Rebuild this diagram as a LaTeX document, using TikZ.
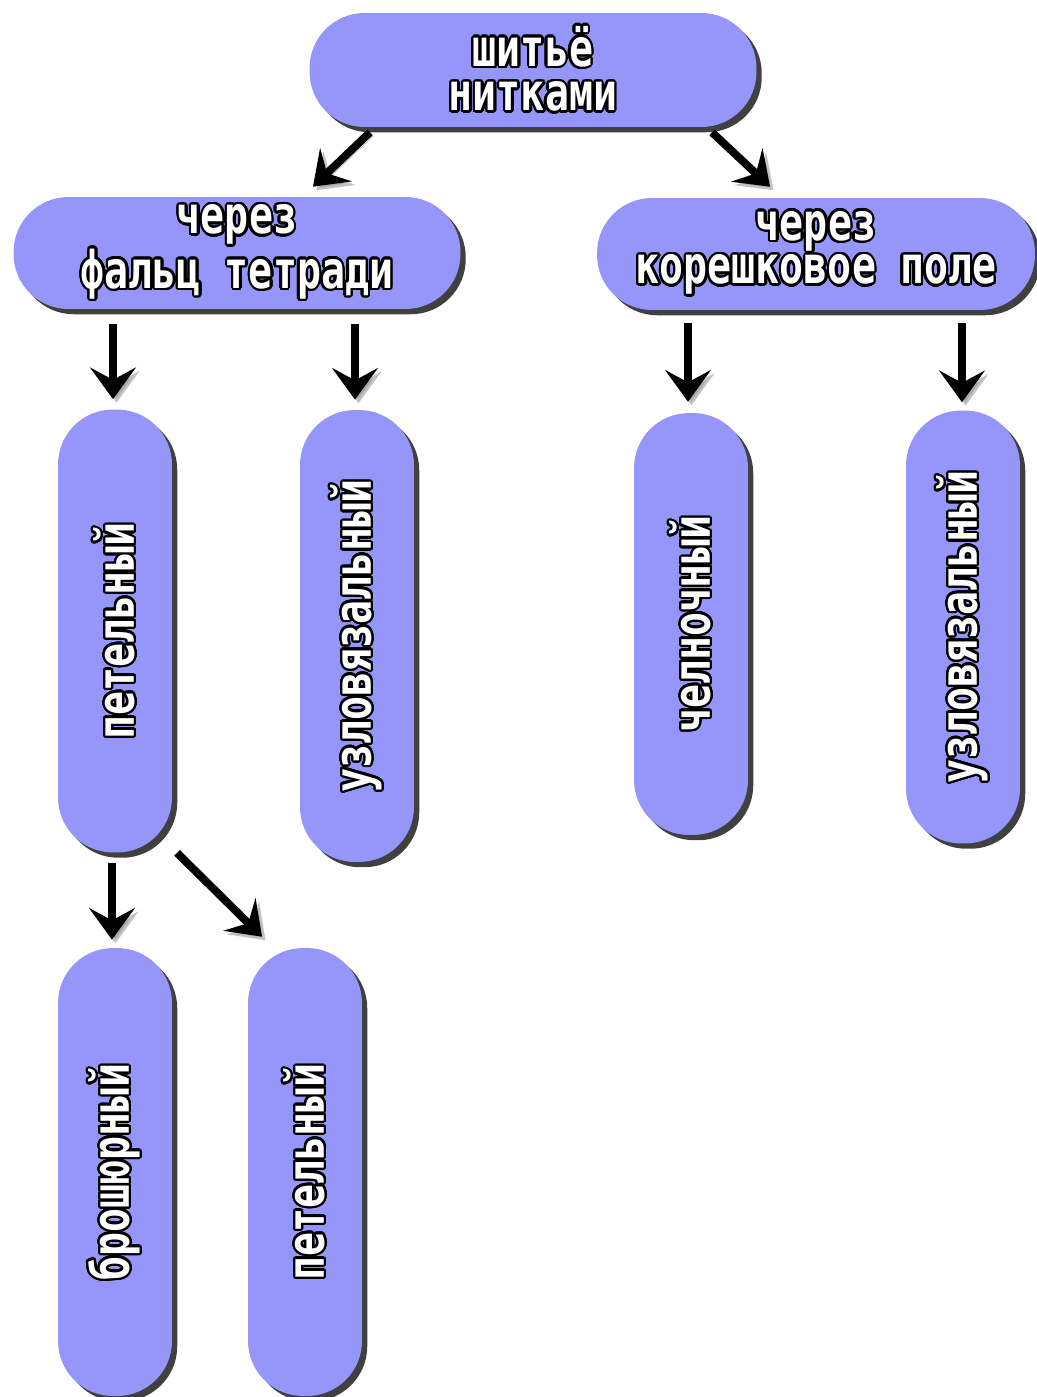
\documentclass[tikz,border=0pt]{standalone}
\usepackage{fontspec}
\setmonofont{DejaVu Sans Mono}
\usepackage[copies]{contour}
\usetikzlibrary{arrows.meta,shadows}
\definecolor{periwinkle}{RGB}{150,150,250}
\contourlength{1.3pt}
\contournumber{24}
\newcommand{\lbl}[1]{\contour{black}{\scalebox{1}[1.3]{#1}}}
\newcommand{\vlbl}[1]{\rotatebox{90}{\lbl{#1}}}

\begin{document}
\begin{tikzpicture}[x=0.02cm,y=-0.02cm,
    box/.style={fill=periwinkle,rounded corners=1.1cm,text=white,
      font=\ttfamily\bfseries\fontsize{22.7}{21.5}\selectfont,align=center,inner sep=0pt,
      drop shadow={shadow xshift=3pt,shadow yshift=-3pt,opacity=0.75,fill=black}},
    wide/.style={box,minimum width=#1,minimum height=2.24cm},
    tall/.style={box,minimum width=2.28cm,minimum height=#1},
    arr/.style={line width=4.5pt,-{Stealth[length=18pt,width=26pt,inset=7pt]},
      preaction={draw=black!40,opacity=0.6,transform canvas={shift={(2pt,-2pt)}}}}]
  \useasboundingbox (0,0) rectangle (1037,1397);
  \node[wide=8.94cm,minimum height=2.28cm] (top) at (533,70) {\lbl{шитьё}\\[4pt]\lbl{нитками}};
  \node[wide=8.94cm] (fold) at (237,253) {\lbl{через}\\\lbl{фальц тетради}};
  \node[wide=8.76cm] (spine) at (816,254) {\lbl{через}\\\lbl{корешковое поле}};
  \node[tall=8.86cm] (loop1) at (115,631) {\vlbl{петельный}};
  \node[tall=9.04cm] (knot1) at (357,636) {\vlbl{узловязальный}};
  \node[tall=8.44cm] (shuttle) at (691,624) {\vlbl{челночный}};
  \node[tall=8.66cm] (knot2) at (963,627) {\vlbl{узловязальный}};
  \node[tall=8.96cm] (brochure) at (115,1172) {\vlbl{брошюрный}};
  \node[tall=8.96cm] (loop2) at (305,1172) {\vlbl{петельный}};
  \draw[arr] ([shift={(-163,5)}]top.south) -- ([shift={(76,-10)}]fold.north);
  \draw[arr] ([shift={(179,5)}]top.south) -- ([shift={(-46,-11)}]spine.north);
  \draw[arr] ([shift={(-124,15)}]fold.south) -- ([shift={(-2,-10)}]loop1.north);
  \draw[arr] ([shift={(118,15)}]fold.south) -- ([shift={(-2,-10)}]knot1.north);
  \draw[arr] ([shift={(-128,13)}]spine.south) -- ([shift={(-3,-11)}]shuttle.north);
  \draw[arr] ([shift={(146,13)}]spine.south) -- ([shift={(-1,-8)}]knot2.north);
  \draw[arr] ([shift={(-3,10)}]loop1.south) -- ([shift={(-3,-8)}]brochure.north);
  \draw[arr] ([shift={(62,0)}]loop1.south) -- ([shift={(-43,-11)}]loop2.north);
\end{tikzpicture}
\end{document}
